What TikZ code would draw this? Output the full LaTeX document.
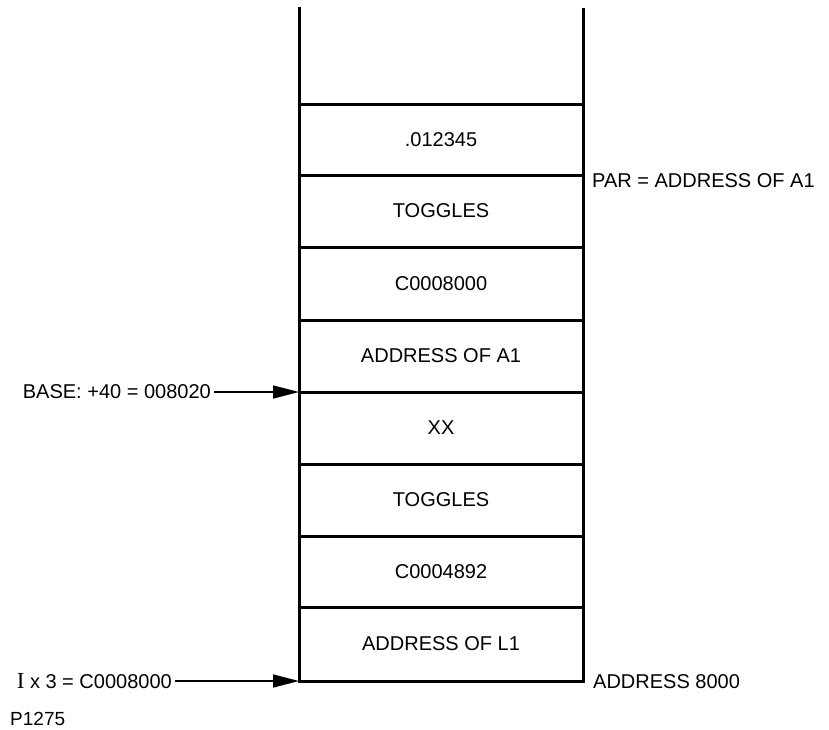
\documentclass[tikz,border=0pt]{standalone}
\usepackage{fontspec}
\setmainfont{Liberation Sans}
\newfontfamily\serifI{Liberation Serif}
\usetikzlibrary{arrows.meta}
\usetikzlibrary{positioning}

\begin{document}
\begin{tikzpicture}[x=1pt,y=-1pt,
    wall/.style={line width=3pt},
    cell/.style={inner sep=0pt,font=\fontsize{20}{24}\selectfont},
    lab/.style={inner sep=3pt,font=\fontsize{20}{24}\selectfont},
    ptr/.style={line width=1.5pt,-{Triangle[length=26pt,width=13pt]}}]
    \useasboundingbox (0,0) rectangle (829,729);

    % stack walls
    \coordinate (tl) at (299,7);
    \coordinate (tr) at (583,8);
    \coordinate (bl) at (299,681);
    \coordinate (br) at (583,681);
    \draw[wall] (tl)--(bl)--(br)--(tr);

    % cell boundaries
    \foreach \y in {104,175,247,320,392,464,536,607}{
        \draw[wall] (299,\y)--(583,\y);
    }

    % cell contents
    \foreach \n/\y/\txt in {val/139.5/.012345,tgla/211/TOGGLES,
        cona/283.5/C0008000,adra/356/ADDRESS OF A1,xx/428/XX,
        tglb/500/TOGGLES,conb/571.5/C0004892,adrl/644/ADDRESS OF L1}{
        \node[cell] (\n) at (441,\y) {\txt};
    }

    % labels at the right
    \node[lab,anchor=west] (par) at (589,181) {PAR = ADDRESS OF A1};
    \node[lab,anchor=west] (addr) at (590,682) {ADDRESS 8000};

    % pointers from the left
    \coordinate (basept) at (299,392);
    \coordinate (ixpt) at (299,681);
    \node[lab,anchor=east] (base) at (214,392) {BASE: +40 = 008020};
    \node[lab,anchor=east] (ix) at (175,681) {{\serifI\fontsize{23}{24}\selectfont I} x 3 = C0008000};
    \draw[ptr] (base) -- (basept);
    \draw[ptr] (ix) -- (ixpt);

    % figure number
    \node[inner sep=0pt,anchor=west,font=\fontsize{19}{22}\selectfont] (fig) at (10,719) {P1275};
\end{tikzpicture}
\end{document}
